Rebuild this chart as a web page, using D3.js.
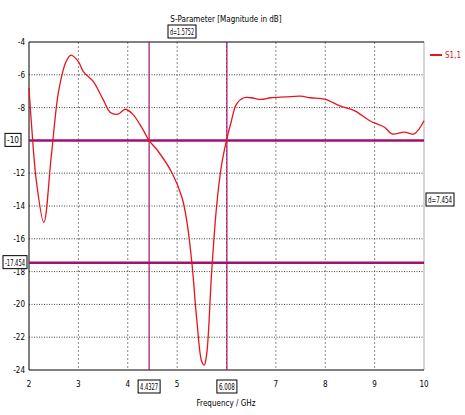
<!DOCTYPE html>
<html><head><meta charset="utf-8">
<script src="https://cdn.jsdelivr.net/npm/d3@7"></script>
<style>body{margin:0;background:#fff}text{font-family:"DejaVu Sans Condensed","Liberation Sans Narrow",sans-serif;font-size:8px}</style>
</head><body><svg id="chart" width="465" height="415"></svg>
<script>
const freq = [2,2.05,2.15,2.3,2.45,2.6,2.75,2.85,3.0,3.1,3.3,3.5,3.65,3.8,3.95,4.1,4.3,4.43,4.6,4.9,5.1,5.2,5.3,5.4,5.5,5.55,5.6,5.7,5.8,5.9,6.0,6.1,6.2,6.35,6.5,6.7,6.9,7.2,7.5,7.7,8.0,8.3,8.6,8.9,9.2,9.35,9.6,9.8,10];
const s11 = [-6.8,-9,-12.5,-15,-11,-7,-5.2,-4.8,-5.2,-5.8,-6.4,-7.5,-8.3,-8.4,-8.1,-8.4,-9.3,-10,-10.6,-12,-13.5,-15,-17.5,-21,-23.5,-23.7,-23,-18,-14,-11.5,-10,-8.8,-7.8,-7.4,-7.4,-7.5,-7.4,-7.35,-7.3,-7.4,-7.5,-7.9,-8.2,-8.8,-9.2,-9.6,-9.5,-9.6,-8.8];
const xTicks = [2,3,4,5,6,7,8,9,10];
const yTicks = [-4,-6,-8,-10,-12,-14,-16,-18,-20,-22,-24];
const markerX = [4.4327, 6.008];
const markerY = [-10, -17.454];

const svg = d3.select('#chart');
const x = d3.scaleLinear().domain([2,10]).range([29,424]);
const y = d3.scaleLinear().domain([-24,-4]).range([370,42]);
const purple = '#a0126e';

// grid
svg.append('g').selectAll('line').data(xTicks.slice(1,-1)).join('line')
  .attr('x1',d=>x(d)).attr('x2',d=>x(d)).attr('y1',y(-4)).attr('y2',y(-24))
  .attr('stroke','#888').attr('stroke-dasharray','2,2');
svg.append('g').selectAll('line').data(yTicks.slice(1,-1)).join('line')
  .attr('x1',x(2)).attr('x2',x(10)).attr('y1',d=>y(d)).attr('y2',d=>y(d))
  .attr('stroke','#444').attr('stroke-dasharray','1,1.5');
svg.append('line').attr('x1',x(10)).attr('x2',x(10)).attr('y1',y(-4)).attr('y2',y(-24)).attr('stroke','#aaa');
svg.append('line').attr('x1',x(2)).attr('x2',x(10)).attr('y1',y(-4)).attr('y2',y(-4)).attr('stroke','#000');
svg.append('line').attr('x1',x(2)).attr('x2',x(10)).attr('y1',y(-24)).attr('y2',y(-24)).attr('stroke','#000');
svg.append('line').attr('x1',x(2)).attr('x2',x(2)).attr('y1',y(-4)).attr('y2',y(-24)).attr('stroke','#000');

// tick labels (those hidden under marker boxes are skipped)
svg.append('g').selectAll('text').data(xTicks.filter(d=>d!==6)).join('text')
  .attr('x',d=>x(d)).attr('y',387).attr('text-anchor','middle').text(d=>d);
svg.append('g').selectAll('text').data(yTicks.filter(d=>d!==-10)).join('text')
  .attr('x',25).attr('y',d=>y(d)+3).attr('text-anchor','end').text(d=>d);

// markers
svg.append('g').selectAll('line').data(markerX).join('line')
  .attr('x1',d=>x(d)).attr('x2',d=>x(d)).attr('y1',y(-4)).attr('y2',y(-24))
  .attr('stroke',purple).attr('stroke-width',1.2);
svg.append('g').selectAll('line').data(markerY).join('line')
  .attr('x1',x(2)).attr('x2',x(10)).attr('y1',d=>y(d)).attr('y2',d=>y(d))
  .attr('stroke',purple).attr('stroke-width',2.5);

// curve
svg.append('path').datum(freq.map((f,i)=>[f,s11[i]]))
  .attr('d',d3.line().x(d=>x(d[0])).y(d=>y(d[1])).curve(d3.curveCatmullRom))
  .attr('fill','none').attr('stroke','#e8141c').attr('stroke-width',1.3);

// boxed labels
function box(cx,cy,txt,w){
  svg.append('rect').attr('x',cx-w/2).attr('y',cy-7).attr('width',w).attr('height',13)
    .attr('fill','#fff').attr('stroke','#000');
  svg.append('text').attr('x',cx-w/2+2).attr('y',cy+3)
    .attr('textLength',w-4).attr('lengthAdjust','spacingAndGlyphs').text(txt);
}
box(x(4.4327),387,'4.4327',22);
box(x(6.008),387,'6.008',20);
box(13,y(-10),'-10',16);
box(15,y(-17.454),'-17.454',24);
box(182,32,'d=1.5752',28);
box(440,200,'d=7.454',28);

svg.append('text').attr('x',226).attr('y',22).attr('text-anchor','middle').text('S-Parameter [Magnitude in dB]');
svg.append('text').attr('x',226).attr('y',406).attr('text-anchor','middle').text('Frequency / GHz');
svg.append('line').attr('x1',430).attr('x2',442).attr('y1',55).attr('y2',55).attr('stroke','#e8141c').attr('stroke-width',2);
svg.append('text').attr('x',445).attr('y',58).attr('fill','#e8141c').text('S1,1');
</script></body></html>
